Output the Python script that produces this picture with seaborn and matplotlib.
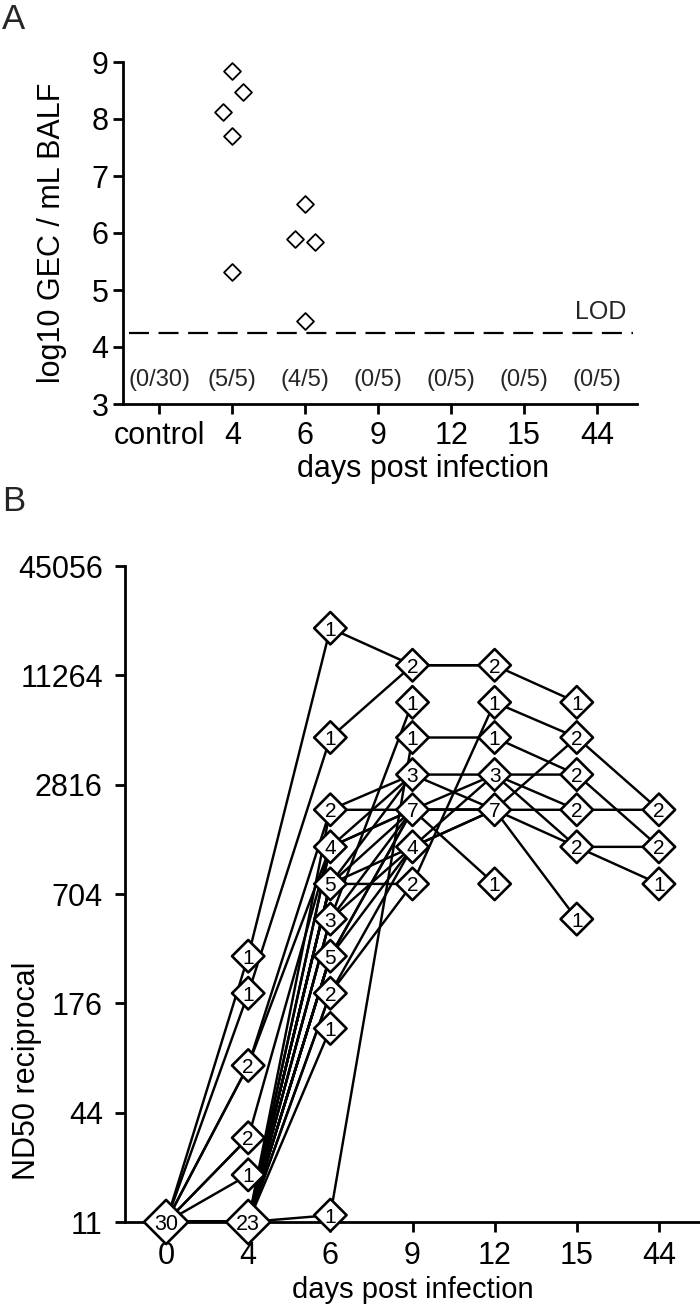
import numpy as np
import pandas as pd
import matplotlib
matplotlib.use("Agg")
import matplotlib.pyplot as plt
from matplotlib.ticker import FixedLocator, FixedFormatter, NullLocator
import seaborn as sns

sns.set_theme(style="white")
plt.rcParams['font.family'] = ['Liberation Sans', 'DejaVu Sans']

nan = np.nan

# ---------------- Panel A data ----------------
gec_categories = ["control", "4", "6", "9", "12", "15", "44"]
gec_positive = ["(0/30)", "(5/5)", "(4/5)", "(0/5)", "(0/5)", "(0/5)", "(0/5)"]
gec_day4 = [8.85, 8.47, 8.12, 7.71, 5.31]
gec_day6 = [6.51, 5.89, 5.84, 4.46]
gec_lod = 4.25
gec_yticks = [3, 4, 5, 6, 7, 8, 9]
# horizontal scatter offsets (layout only)
jit_day4 = [0.0, 0.14, -0.13, 0.0, 0.0]
jit_day6 = [0.0, -0.14, 0.14, 0.0]

# ---------------- Panel B data ----------------
nd_days = ["0", "4", "6", "9", "12", "15", "44"]
nd_ticks = [11, 44, 176, 704, 2816, 11264, 45056]
titer_d0 = [11, 11, 11, 11, 11, 11, 11, 11, 11, 11, 11, 11, 11, 11, 11,
            11, 11, 11, 11, 11, 11, 11, 11, 11, 11, 11, 11, 11, 11, 11]
titer_d4 = [320, 200, 11, 80, 11, 80, 32, 11, 11, 11, 11, 11, 11, 11, 11,
            11, 11, 11, 11, 11, 11, 11, 11, 11, 11, 20, 32, 11, 11, 11]
titer_d6 = [20480, 5120, 12, 2048, 2048, 1280, 1280, 1280, 1280, 800, 800, 800, 800, 800, 512,
            512, 512, 320, 320, 320, 320, 320, 200, 200, 128, nan, nan, nan, nan, nan]
titer_d9 = [12800, 12800, 5120, 3200, 2048, 3200, 2048, 2048, nan, 800, 2048, 1280, 3200, nan, 2048,
            1280, 8000, 2048, 1280, 2048, nan, nan, 800, 1280, nan, nan, nan, nan, nan, nan]
titer_d12 = [12800, 12800, 5120, 3200, 2048, 2048, 3200, 2048, nan, 8000, 800, 3200, nan, nan, 2048,
             2048, nan, 2048, 2048, nan, nan, nan, nan, nan, nan, nan, nan, nan, nan, nan]
titer_d15 = [8000, nan, 3200, 3200, 5120, 2048, 2048, 1280, nan, 5120, nan, 1280, nan, nan, 512,
             nan, nan, nan, nan, nan, nan, nan, nan, nan, nan, nan, nan, nan, nan, nan]
titer_d44 = [nan, nan, 1280, nan, nan, nan, 2048, 800, nan, 2048, nan, 1280, nan, nan, nan,
             nan, nan, nan, nan, nan, nan, nan, nan, nan, nan, nan, nan, nan, nan, nan]

# ---------------- Figure ----------------
W, H = 700, 1310
fig = plt.figure(figsize=(W / 100, H / 100), dpi=100)
axA = fig.add_axes([123 / W, 1 - 404 / H, 514 / W, 342 / H])
axB = fig.add_axes([125 / W, 1 - 1222 / H, 575 / W, 656 / H])

# ===== Panel A =====
rows = []
for v, j in zip(gec_day4, jit_day4):
    rows.append({"x": gec_categories.index("4") + j, "y": v})
for v, j in zip(gec_day6, jit_day6):
    rows.append({"x": gec_categories.index("6") + j, "y": v})
dfA = pd.DataFrame(rows)

sns.scatterplot(data=dfA, x="x", y="y", marker="D", s=8.6 ** 2, color="white",
                edgecolor="black", linewidth=1.3, ax=axA, zorder=3, clip_on=False,
                legend=False)

axA.hlines(gec_lod, -0.42, 6.5, colors="black", linewidth=1.6,
           linestyles=(0, (9.0, 4.3)), zorder=2)
axA.text(6.41, gec_lod + 0.16, "LOD", ha="right", va="bottom", fontsize=18)

for i, t in enumerate(gec_positive):
    axA.text(i, 3.42, t, ha="center", va="center", fontsize=17)

axA.set_xlim(-0.5, 6.55)
axA.set_ylim(3, 9)
axA.xaxis.set_major_locator(FixedLocator(list(range(len(gec_categories)))))
axA.xaxis.set_major_formatter(FixedFormatter(gec_categories))
axA.yaxis.set_major_locator(FixedLocator(gec_yticks))
axA.yaxis.set_major_formatter(FixedFormatter([str(t) for t in gec_yticks]))
axA.xaxis.set_minor_locator(NullLocator())
axA.yaxis.set_minor_locator(NullLocator())

for s in ["top", "right"]:
    axA.spines[s].set_visible(False)
for s in ["left", "bottom"]:
    axA.spines[s].set_linewidth(2.0)
    axA.spines[s].set_color("black")
axA.tick_params(axis="both", direction="out", length=7, width=2.0, color="black",
                labelsize=22, labelcolor="black", left=True, bottom=True)
axA.tick_params(axis="y", pad=3.5)
axA.tick_params(axis="x", pad=5)
axA.set_xlabel("days post infection", fontsize=22, color="black")
axA.set_ylabel("log10 GEC / mL BALF", fontsize=22, color="black")
axA.xaxis.set_label_coords((423 - 123) / 514, -0.146)
axA.yaxis.set_label_coords((67 - 123) / 514, 0.5)

# ===== Panel B =====
titers = [titer_d0, titer_d4, titer_d6, titer_d9, titer_d12, titer_d15, titer_d44]
recs = []
for d, col in enumerate(titers):
    for a, v in enumerate(col):
        if not np.isnan(v):
            recs.append({"animal": a, "pos": d, "titer": v})
dfB = pd.DataFrame(recs)

sns.lineplot(data=dfB, x="pos", y="titer", units="animal", estimator=None, sort=True,
             color="black", linewidth=1.75, ax=axB, legend=False, zorder=2)

cnt = dfB.groupby(["pos", "titer"]).size().reset_index(name="n")
cnt["kind"] = np.where(cnt["n"] >= 10, "two", "one")
sns.scatterplot(data=cnt, x="pos", y="titer", size="kind",
                sizes={"one": 16.5 ** 2, "two": 22.5 ** 2}, marker="D",
                color="white", edgecolor="black", linewidth=1.9, ax=axB,
                zorder=3, clip_on=False, legend=False)
for _, r in cnt.iterrows():
    axB.text(r["pos"], r["titer"], str(int(r["n"])), ha="center", va="center_baseline",
             fontsize=15.5 if r["n"] >= 10 else 15, zorder=4, color="black")

axB.set_yscale("log")
axB.set_ylim(11, 45056)
axB.set_xlim(-0.5, 6.5)
axB.xaxis.set_major_locator(FixedLocator(list(range(len(nd_days)))))
axB.xaxis.set_major_formatter(FixedFormatter(nd_days))
axB.yaxis.set_major_locator(FixedLocator(nd_ticks))
axB.yaxis.set_major_formatter(FixedFormatter([str(t) for t in nd_ticks]))
axB.xaxis.set_minor_locator(NullLocator())
axB.yaxis.set_minor_locator(NullLocator())

for s in ["top", "right"]:
    axB.spines[s].set_visible(False)
for s in ["left", "bottom"]:
    axB.spines[s].set_linewidth(2.0)
    axB.spines[s].set_color("black")
axB.tick_params(axis="both", direction="out", length=7, width=2.0, color="black",
                labelsize=22, labelcolor="black", left=True, bottom=True)
axB.tick_params(axis="y", pad=9)
axB.tick_params(axis="x", pad=7)
axB.set_xlabel("days post infection", fontsize=21, color="black")
axB.set_ylabel("ND50 reciprocal", fontsize=22, color="black")
axB.xaxis.set_label_coords(0.5, -0.0823)
axB.yaxis.set_label_coords((42 - 125) / 575, (1222 - 1071) / 656)

fig.text(2 / W, 1 - 3 / H, "A", ha="left", va="top", fontsize=25)
fig.text(2 / W, 1 - 485 / H, "B", ha="left", va="top", fontsize=25)

fig.savefig("out.png", dpi=100, facecolor="white")
